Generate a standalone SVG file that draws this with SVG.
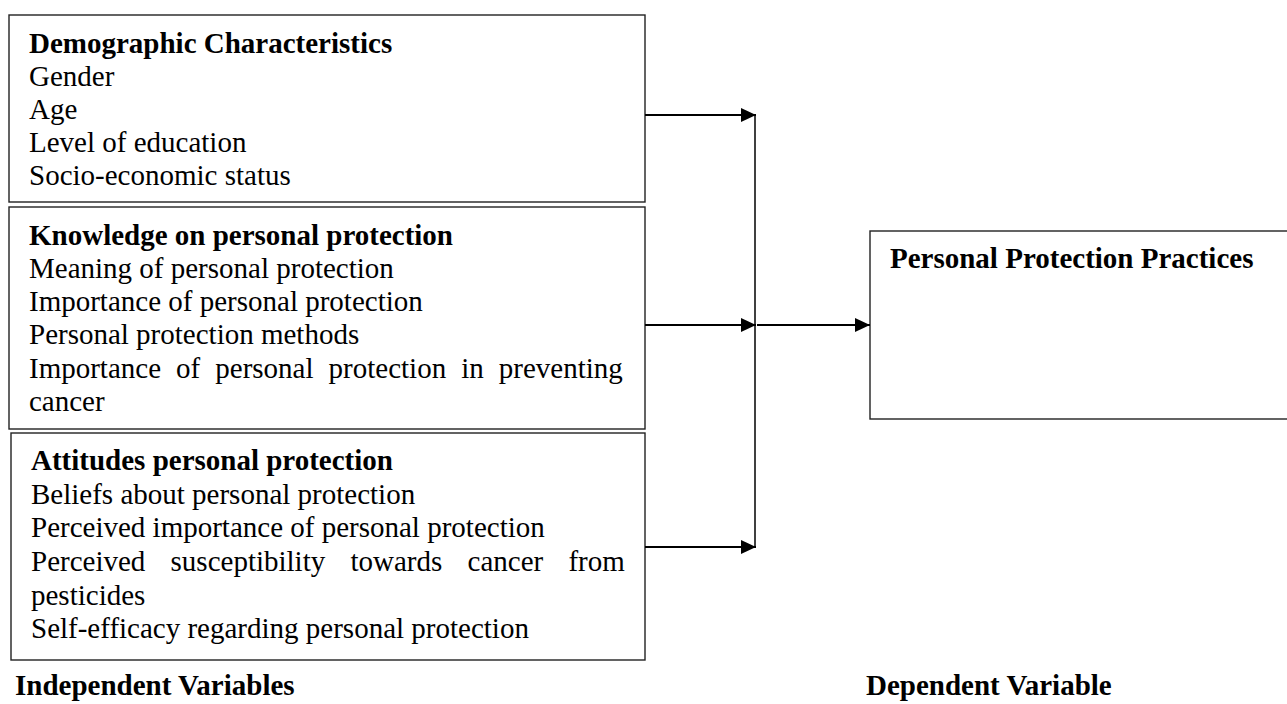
<svg xmlns="http://www.w3.org/2000/svg" width="1287" height="704" viewBox="0 0 1287 704">
<style>
.box{fill:#fff;stroke:#222;stroke-width:1.4}
.t{font-family:"Liberation Serif","Times New Roman",serif;font-size:29px;fill:#000}
.b{font-weight:bold}
.conn{stroke:#000;fill:none}
</style>
<defs>
<marker id="ah" markerUnits="userSpaceOnUse" markerWidth="16" markerHeight="16" refX="15" refY="8" orient="auto">
<path d="M0,1 L15,8 L0,15 Z" fill="#000"/>
</marker>
</defs>
<rect width="1287" height="704" fill="#fff"/>
<g id="demographic">
<rect class="box" x="9" y="15" width="636" height="187"/>
<text class="t b" x="29" y="53">Demographic Characteristics</text>
<text class="t" x="29" y="86">Gender</text>
<text class="t" x="29" y="119">Age</text>
<text class="t" x="29" y="152">Level of education</text>
<text class="t" x="29" y="185">Socio-economic status</text>
</g>
<g id="knowledge">
<rect class="box" x="9" y="207" width="636" height="222"/>
<text class="t b" x="29" y="245">Knowledge on personal protection</text>
<text class="t" x="29" y="278">Meaning of personal protection</text>
<text class="t" x="29" y="311">Importance of personal protection</text>
<text class="t" x="29" y="344">Personal protection methods</text>
<text class="t" x="29" y="378" word-spacing="7.8">Importance of personal protection in preventing</text>
<text class="t" x="29" y="411">cancer</text>
</g>
<g id="attitudes">
<rect class="box" x="11" y="433" width="634" height="227"/>
<text class="t b" x="31" y="470">Attitudes personal protection</text>
<text class="t" x="31" y="504">Beliefs about personal protection</text>
<text class="t" x="31" y="537">Perceived importance of personal protection</text>
<text class="t" x="31" y="571" word-spacing="18">Perceived susceptibility towards cancer from</text>
<text class="t" x="31" y="605">pesticides</text>
<text class="t" x="31" y="638">Self-efficacy regarding personal protection</text>
</g>
<g id="practices">
<rect class="box" x="870" y="231" width="430" height="188"/>
<text class="t b" x="890" y="268">Personal Protection Practices</text>
</g>
<g id="labels">
<text class="t b" x="15" y="695">Independent Variables</text>
<text class="t b" x="866" y="695">Dependent Variable</text>
</g>
<g id="connectors">
<line class="conn" x1="755" y1="115" x2="755" y2="547" stroke-width="1.5"/>
<line class="conn" x1="645" y1="115" x2="756" y2="115" stroke-width="2.2" marker-end="url(#ah)"/>
<line class="conn" x1="645" y1="325" x2="756" y2="325" stroke-width="2.2" marker-end="url(#ah)"/>
<line class="conn" x1="645" y1="547" x2="756" y2="547" stroke-width="2.2" marker-end="url(#ah)"/>
<line class="conn" x1="757" y1="325" x2="870" y2="325" stroke-width="2.2" marker-end="url(#ah)"/>
</g>
</svg>
